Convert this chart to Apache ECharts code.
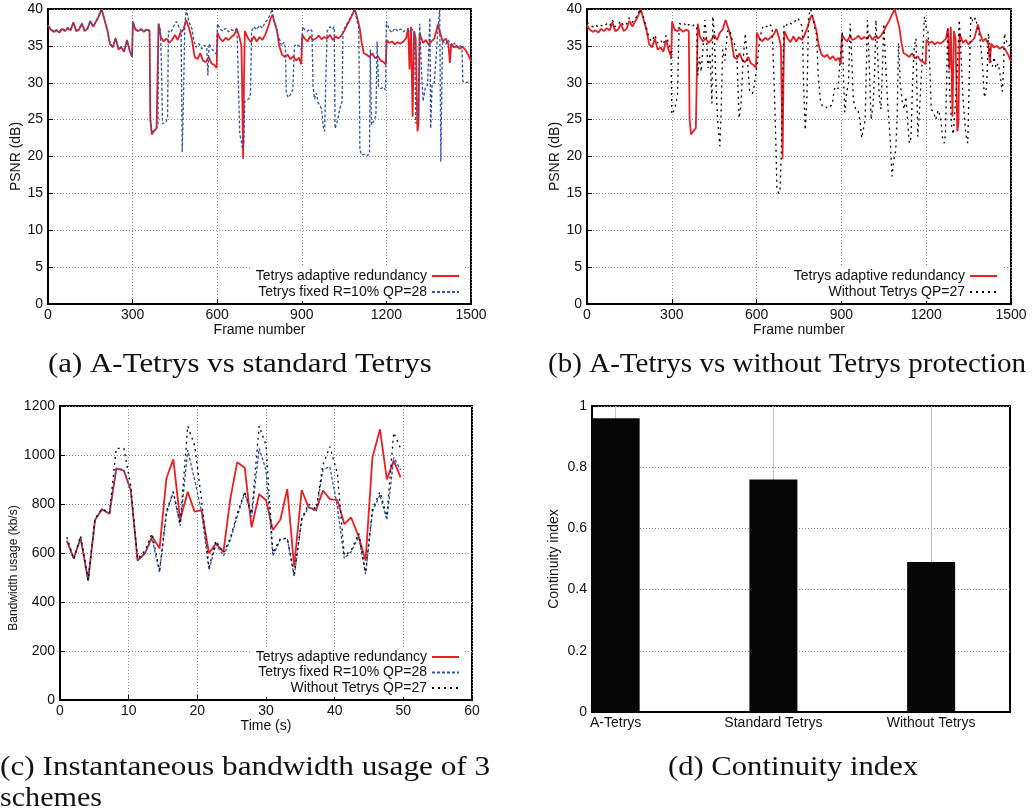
<!DOCTYPE html>
<html>
<head>
<meta charset="utf-8">
<script src="https://cdn.jsdelivr.net/npm/echarts@6/dist/echarts.min.js"></script>
<style>
  html, body { margin: 0; padding: 0; background: #fff; }
  #chart { width: 1032px; height: 810px; }
</style>
</head>
<body>
<div id="chart"></div>
<script>
// PSNR per frame, [frame, dB] (a) and (b)
const psnrAdaptive = [
  [0,37.8],[10,37.2],[20,36.9],[30,37.1],[40,36.8],[50,37.3],[60,37.0],[70,37.4],[80,37.1],[90,38.2],
  [100,37.0],[110,37.2],[120,38.0],[130,37.0],[140,37.3],[150,38.4],[160,37.6],[170,38.3],[180,39.0],[190,40.0],
  [200,38.6],[210,37.2],[220,35.2],[230,34.8],[240,36.0],[250,34.5],[260,34.8],[270,34.2],[280,35.8],[290,34.3],
  [298,33.5],[301,38.3],[310,37.2],[320,37.0],[330,37.3],[340,36.9],[350,37.2],[360,37.0],[363,25.0],[368,23.0],
  [375,23.4],[385,23.8],[390,24.0],[392,38.0],[400,36.2],[410,35.6],[420,36.0],[430,35.4],[440,35.8],[450,36.5],
  [460,35.8],[470,36.8],[480,37.2],[490,38.5],[500,37.4],[510,36.0],[520,33.5],[530,33.2],[540,34.0],[550,33.0],
  [560,32.8],[570,33.5],[580,32.6],[590,32.4],[598,32.0],[601,36.8],[610,36.0],[620,35.6],[630,36.1],[640,35.8],
  [650,36.2],[660,36.5],[670,37.3],[680,36.0],[686,35.0],[689,28.0],[692,19.7],[695,30.5],[698,37.0],[710,36.0],
  [720,35.5],[730,36.3],[740,35.6],[750,36.2],[760,35.8],[770,36.5],[780,37.5],[790,38.8],[796,39.2],[805,38.0],
  [812,37.0],[820,35.0],[830,33.8],[840,33.5],[850,33.8],[860,33.2],[870,33.6],[880,33.0],[890,33.4],[898,32.5],
  [902,36.5],[910,36.0],[920,35.6],[930,36.3],[940,35.8],[950,36.0],[960,36.4],[970,35.9],[980,36.2],[990,36.0],
  [1000,36.5],[1010,35.8],[1020,36.3],[1030,36.0],[1040,36.4],[1050,37.0],[1060,37.8],[1070,38.5],[1080,39.3],[1088,40.0],
  [1095,39.0],[1105,37.5],[1112,35.5],[1120,34.0],[1130,33.8],[1140,33.5],[1150,34.0],[1160,33.3],[1170,33.6],[1180,33.0],
  [1190,32.8],[1198,32.5],[1201,35.8],[1210,35.4],[1220,35.6],[1230,35.2],[1240,35.5],[1250,35.3],[1260,35.6],[1270,36.0],
  [1277,37.4],[1282,31.8],[1287,37.6],[1293,25.4],[1298,37.0],[1304,36.0],[1310,23.4],[1314,24.5],[1318,36.7],[1330,35.4],
  [1340,35.8],[1350,35.2],[1360,35.6],[1370,36.0],[1383,37.9],[1390,36.8],[1400,35.6],[1410,36.0],[1420,35.2],[1425,32.7],
  [1430,35.3],[1440,34.8],[1450,35.0],[1460,34.6],[1470,34.9],[1480,34.5],[1490,33.8],[1500,32.9]
];
const psnrFixed = [
  [0,37.7],[10,37.3],[20,37.0],[30,37.2],[40,36.9],[50,37.4],[60,37.1],[70,37.5],[80,37.2],[90,38.1],
  [100,37.1],[110,37.3],[120,38.1],[130,37.1],[140,37.4],[150,38.3],[160,37.7],[170,38.2],[180,39.1],[190,40.0],
  [200,38.5],[210,37.3],[220,35.3],[230,34.9],[240,36.1],[250,34.6],[260,34.9],[270,34.3],[280,35.7],[290,34.4],
  [298,33.6],[301,38.2],[310,37.3],[320,37.1],[330,37.2],[340,37.0],[350,37.3],[360,37.1],[363,25.2],[368,23.2],
  [375,23.5],[385,23.9],[390,24.2],[392,38.0],[398,37.2],[402,33.0],[406,24.4],[412,24.2],[420,24.8],[424,25.4],
  [427,37.0],[435,36.8],[445,37.6],[455,38.3],[465,37.5],[472,37.1],[476,20.6],[480,27.0],[485,37.5],[490,40.0],
  [500,38.2],[510,37.4],[518,35.6],[525,34.8],[535,35.3],[545,34.6],[555,35.1],[563,34.8],[567,31.0],[571,35.3],
  [580,34.6],[590,34.2],[598,33.8],[601,38.0],[610,37.3],[620,37.0],[630,37.4],[640,36.9],[650,37.2],[660,37.0],
  [670,37.4],[676,37.5],[680,23.0],[686,22.0],[690,21.0],[694,21.5],[698,27.5],[705,27.3],[712,27.8],[718,28.5],
  [722,37.0],[730,37.6],[740,37.2],[750,37.8],[760,37.4],[770,38.2],[780,38.6],[790,39.5],[795,40.0],[800,38.5],
  [810,37.5],[815,36.5],[820,36.0],[828,35.0],[836,35.5],[842,34.8],[845,28.6],[852,28.0],[860,28.4],[868,29.0],
  [874,35.0],[882,35.2],[890,35.0],[898,34.5],[903,37.6],[910,37.2],[920,37.0],[930,37.3],[936,37.0],[940,29.5],
  [945,27.8],[952,28.6],[958,27.3],[964,27.5],[970,26.5],[976,24.0],[981,23.4],[985,30.0],[990,37.0],[1000,37.6],
  [1010,37.3],[1015,37.6],[1018,23.8],[1025,24.6],[1035,26.5],[1043,27.5],[1046,37.0],[1060,38.0],[1075,39.0],[1088,40.0],
  [1095,38.5],[1102,37.5],[1106,20.9],[1112,20.2],[1122,20.3],[1132,20.1],[1140,20.4],[1143,34.5],[1147,24.3],[1155,24.8],
  [1163,25.6],[1167,35.6],[1172,29.5],[1180,29.2],[1190,29.4],[1197,29.0],[1200,38.3],[1210,37.2],[1220,36.8],[1230,37.4],
  [1240,37.0],[1250,37.3],[1260,36.9],[1270,37.2],[1280,37.0],[1290,37.3],[1300,36.8],[1304,24.5],[1312,24.8],[1318,38.0],
  [1324,32.0],[1330,27.5],[1338,29.3],[1346,29.7],[1354,38.8],[1357,23.8],[1362,29.8],[1370,30.0],[1377,30.2],[1382,36.7],
  [1389,40.0],[1393,19.3],[1399,35.8],[1410,35.2],[1419,35.8],[1430,35.0],[1440,35.4],[1450,34.8],[1460,35.1],[1468,34.8],
  [1471,30.2],[1480,30.0],[1490,30.1],[1500,29.8]
];
const psnrWithout = [
  [0,38.2],[10,37.8],[20,37.6],[30,37.9],[40,37.5],[50,37.8],[60,37.6],[70,38.0],[80,37.7],[90,38.5],
  [100,37.6],[110,37.9],[120,38.4],[130,37.7],[140,38.0],[150,38.8],[160,38.2],[170,38.6],[180,39.3],[187,40.0],
  [200,38.8],[210,37.5],[220,36.0],[230,35.6],[240,36.5],[250,35.4],[260,35.8],[270,35.2],[280,36.4],[290,35.2],
  [297,34.5],[300,25.7],[305,26.0],[312,26.8],[320,28.2],[326,38.1],[335,37.8],[345,38.0],[352,37.6],[360,37.9],
  [370,37.6],[380,37.9],[388,37.5],[392,31.0],[398,33.5],[404,31.5],[410,34.5],[417,38.5],[422,36.5],[428,32.0],
  [435,34.0],[442,27.2],[445,39.0],[450,37.0],[456,30.0],[462,25.0],[470,21.4],[474,25.5],[480,34.5],[488,33.0],
  [497,37.0],[505,37.2],[512,36.0],[520,35.5],[530,34.0],[538,25.2],[545,27.0],[552,33.0],[560,36.7],[568,33.0],
  [575,29.0],[585,28.5],[592,29.7],[598,29.8],[602,32.5],[610,35.5],[618,37.2],[625,37.8],[635,37.6],[645,38.0],
  [655,37.5],[662,30.0],[668,22.0],[672,15.6],[678,15.0],[683,15.5],[687,20.0],[692,30.0],[697,38.0],[705,37.8],
  [715,38.2],[725,37.9],[735,38.3],[745,38.8],[755,38.2],[762,37.5],[766,30.0],[772,23.6],[778,28.0],[784,39.0],
  [791,40.0],[798,39.0],[805,37.5],[812,36.5],[818,31.0],[826,27.5],[833,26.8],[842,26.9],[850,26.5],[860,26.8],
  [868,27.0],[874,29.0],[880,29.5],[888,29.2],[895,29.4],[903,37.0],[908,30.0],[912,26.0],[918,28.5],[925,30.0],
  [931,38.0],[937,33.0],[942,27.7],[950,26.5],[958,26.4],[965,25.0],[972,22.5],[978,22.3],[984,25.0],[992,38.5],
  [998,33.0],[1005,25.0],[1012,27.0],[1018,32.0],[1022,38.5],[1028,34.0],[1034,28.0],[1040,26.4],[1046,33.0],[1050,38.0],
  [1056,33.0],[1064,27.0],[1072,22.7],[1079,17.3],[1085,19.5],[1092,20.8],[1097,25.0],[1102,35.4],[1108,30.0],[1115,27.5],
  [1122,26.4],[1128,28.1],[1134,25.0],[1140,21.8],[1146,22.5],[1152,30.0],[1158,35.0],[1164,36.0],[1170,22.7],[1176,26.0],
  [1183,31.0],[1190,36.0],[1194,39.0],[1200,37.5],[1206,37.0],[1212,33.0],[1218,26.4],[1226,26.0],[1234,25.0],[1242,26.3],
  [1250,25.5],[1258,22.5],[1264,21.8],[1268,23.0],[1276,37.2],[1282,30.0],[1290,24.0],[1296,23.0],[1302,23.2],[1308,30.0],
  [1317,38.5],[1323,34.0],[1330,28.0],[1340,23.0],[1347,21.8],[1352,30.0],[1358,39.0],[1366,38.2],[1374,38.8],[1382,37.5],
  [1390,36.0],[1398,33.0],[1406,28.0],[1414,29.5],[1420,36.7],[1428,33.0],[1434,32.2],[1440,33.5],[1447,32.0],[1454,32.6],
  [1460,31.5],[1465,30.0],[1469,28.8],[1474,32.0],[1477,36.7],[1485,35.5],[1492,35.0],[1500,35.2]
];

// Bandwidth usage (kb/s) per sample time (s), panel (c)
const timeSec = [1.0, 2.0, 3.0, 4.1, 5.1, 6.1, 7.2, 8.2, 9.3, 10.3, 11.3, 12.4, 13.4, 14.5, 15.5, 16.5,
  17.5, 18.6, 19.6, 20.6, 21.7, 22.7, 23.8, 24.8, 25.8, 26.9, 27.9, 29.0, 30.0, 31.0, 32.1, 33.1,
  34.1, 35.2, 36.2, 37.3, 38.3, 39.3, 40.4, 41.4, 42.4, 43.5, 44.5, 45.5, 46.6, 47.6, 48.6, 49.6];
const bwAdaptive = [650, 578, 660, 490, 735, 778, 760, 945, 936, 857, 569, 600, 667, 619, 905, 982,
  735, 850, 769, 775, 599, 639, 605, 820, 970, 948, 705, 840, 816, 694, 737, 861,
  544, 857, 786, 776, 855, 820, 816, 718, 745, 667, 569, 990, 1105, 900, 977, 909];
const bwFixed = [650, 575, 665, 485, 735, 780, 760, 945, 940, 855, 570, 600, 660, 520, 760, 850,
  710, 1020, 900, 770, 530, 636, 588, 653, 748, 846, 748, 1027, 939, 588, 655, 660,
  503, 735, 789, 769, 941, 952, 789, 578, 605, 667, 514, 769, 837, 735, 990, 939];
const bwWithout = [665, 575, 670, 490, 740, 780, 765, 1027, 1027, 875, 575, 610, 680, 530, 770, 850,
  720, 1118, 1040, 820, 540, 650, 600, 660, 760, 850, 760, 1118, 1040, 600, 660, 660,
  510, 740, 800, 780, 960, 1034, 925, 590, 610, 680, 520, 780, 850, 750, 1091, 1027];

// Continuity index, panel (d)
const schemes = ['A-Tetrys', 'Standard Tetrys', 'Without Tetrys'];
const continuity = [0.96, 0.76, 0.49];

const nameAdaptive = 'Tetrys adaptive redundancy';
const nameFixed = 'Tetrys fixed R=10% QP=28';
const nameWithout = 'Without Tetrys QP=27';

const captions = [
  { text: '(a) A-Tetrys vs standard Tetrys', x: 48, y: 351, sx: 1.145 },
  { text: '(b) A-Tetrys vs without Tetrys protection', x: 548, y: 351, sx: 1.077 },
  { text: '(c) Instantaneous bandwidth usage of 3', x: 0, y: 754, sx: 1.157 },
  { text: 'schemes', x: 0, y: 785, sx: 1.115 },
  { text: '(d) Continuity index', x: 668, y: 754, sx: 1.134 }
];

const sans = '"Liberation Sans", Arial, sans-serif';
const serif = '"Liberation Serif", "Times New Roman", serif';
const txt = { color: '#111', fontSize: 14, fontFamily: sans };
const dotted = { show: true, lineStyle: { color: '#8a8a8a', width: 1, type: [1, 2] } };
const frame = { show: true, onZero: false, lineStyle: { color: '#000', width: 2 } };
const ticks = { show: true, inside: true, length: 5, lineStyle: { color: '#000', width: 1 } };
const plain = v => String(v);

const red = { color: '#ee1d23', width: 1.8 };
const blue = { color: '#2f55a8', width: 1.3, type: [3, 2] };
const black = { color: '#000', width: 1.3, type: [2, 4] };

function xAxis(gridIndex, min, max, interval, name, nameGap) {
  return {
    type: 'value', gridIndex, min, max, interval, name, nameLocation: 'middle', nameGap,
    nameTextStyle: txt, axisLine: frame, axisTick: ticks,
    axisLabel: { ...txt, margin: 4, formatter: plain }, splitLine: dotted
  };
}
function yAxis(gridIndex, min, max, interval, name, nameGap, nameExtra) {
  return {
    type: 'value', gridIndex, min, max, interval, name, nameLocation: 'middle', nameGap,
    nameTextStyle: { ...txt, ...nameExtra }, axisLine: frame, axisTick: ticks,
    axisLabel: { ...txt, margin: 5, formatter: plain }, splitLine: dotted
  };
}
function line(name, data, idx, lineStyle) {
  return {
    type: 'line', name, data, xAxisIndex: idx, yAxisIndex: idx,
    symbol: 'none', lineStyle, itemStyle: { color: lineStyle.color },
    silent: true, animation: false
  };
}
function legend(names, right, top, gap) {
  return {
    data: names, orient: 'vertical', align: 'right', right, top,
    itemWidth: 27, itemHeight: 14, itemGap: gap, padding: [2, 4],
    backgroundColor: '#fff', textStyle: txt, selectedMode: false,
    itemStyle: { opacity: 0 }
  };
}
const zip = (xs, ys) => xs.map((x, i) => [x, ys[i]]);

const chart = echarts.init(document.getElementById('chart'));
chart.setOption({
  backgroundColor: '#fff',
  animation: false,
  grid: [
    { left: 48, top: 9, width: 423, height: 295 },
    { left: 587, top: 9, width: 424, height: 295 },
    { left: 60, top: 406, width: 412, height: 294 },
    { left: 592, top: 406, width: 418, height: 306 }
  ].map(g => ({ ...g, show: true, borderColor: '#000', borderWidth: 2, containLabel: false })),
  xAxis: [
    xAxis(0, 0, 1500, 300, 'Frame number', 15),
    xAxis(1, 0, 1500, 300, 'Frame number', 15),
    xAxis(2, 0, 60, 10, 'Time (s)', 18),
    {
      type: 'value', gridIndex: 3, min: -0.15, max: 2.5,
      axisLine: frame,
      axisTick: { show: false, customValues: [0, 1, 2] },
      axisLabel: { ...txt, margin: 4, customValues: [0, 1, 2], formatter: v => schemes[Math.round(v)] },
      splitLine: { show: true, lineStyle: { color: '#c4c4c4', width: 1 } }
    }
  ],
  yAxis: [
    yAxis(0, 0, 40, 5, 'PSNR (dB)', 25),
    yAxis(1, 0, 40, 5, 'PSNR (dB)', 25),
    yAxis(2, 0, 1200, 200, 'Bandwidth usage (kb/s)', 38, { fontSize: 12, padding: [0, 30, 0, 0] }),
    yAxis(3, 0, 1, 0.2, 'Continuity index', 31)
  ],
  legend: [
    legend([nameAdaptive, nameFixed], 568, 267, 2),
    legend([nameAdaptive, nameWithout], 30, 267, 2),
    legend([nameAdaptive, nameFixed, nameWithout], 568, 648, 1.5)
  ],
  series: [
    line(nameAdaptive, psnrAdaptive, 0, red),
    line(nameFixed, psnrFixed, 0, blue),
    line(nameAdaptive, psnrAdaptive, 1, red),
    line(nameWithout, psnrWithout, 1, black),
    line(nameAdaptive, zip(timeSec, bwAdaptive), 2, red),
    line(nameFixed, zip(timeSec, bwFixed), 2, blue),
    line(nameWithout, zip(timeSec, bwWithout), 2, black),
    {
      type: 'bar', xAxisIndex: 3, yAxisIndex: 3, barWidth: 48,
      data: continuity.map((v, i) => [i, v]),
      itemStyle: { color: '#060606' }, silent: true
    }
  ],
  graphic: captions.map(c => ({
    type: 'text', x: c.x, y: c.y, scaleX: c.sx, silent: true,
    style: { text: c.text, fontFamily: serif, fontSize: 27, fill: '#111', verticalAlign: 'top' }
  }))
});
</script>
</body>
</html>
